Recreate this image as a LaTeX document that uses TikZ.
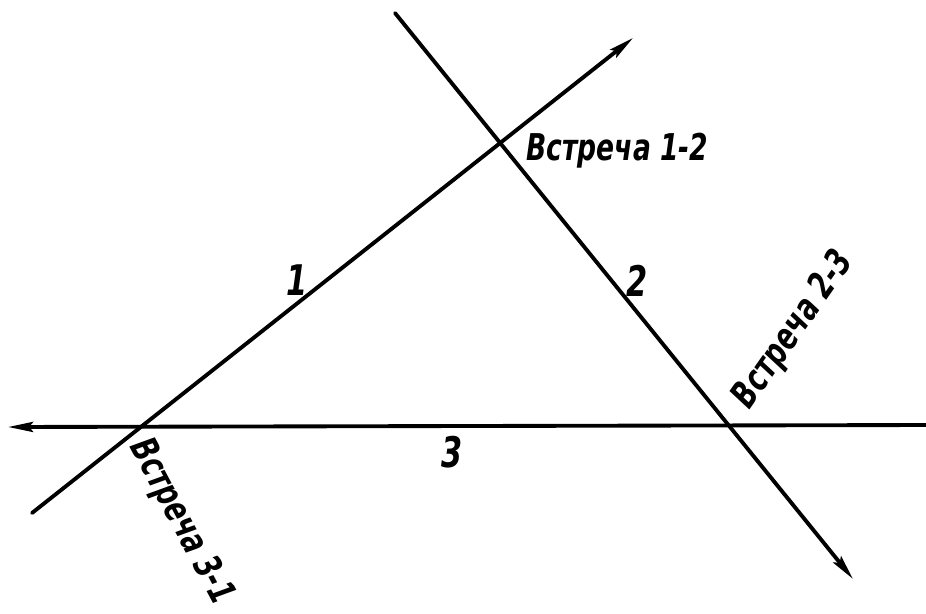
\documentclass[tikz,border=0pt]{standalone}
\usepackage{fontspec}
\setmainfont{DejaVu Sans}[FakeStretch=0.72]
\usetikzlibrary{arrows.meta}
\tikzset{
  >={Stealth[length=5mm,width=2mm,inset=0.8mm]},
  track/.style={line width=2.2pt,draw=black,line cap=round},
  meet/.style={font=\fontsize{21}{23}\selectfont\bfseries\itshape,inner sep=0pt},
  num/.style={font=\fontsize{24}{26}\selectfont\bfseries\itshape,inner sep=0pt},
}
\begin{document}
\begin{tikzpicture}[x=0.02cm,y=-0.02cm]
  \useasboundingbox (0,0) rectangle (926,613);
  % ends of the three tracks
  \coordinate (s1) at (32,513);  \coordinate (e1) at (633,38);
  \coordinate (s2) at (395,13);  \coordinate (e2) at (853,579);
  \coordinate (s3) at (926,425); \coordinate (e3) at (8,427);
  \draw[track,->] (s1) -- (e1);
  \draw[track,->] (s2) -- (e2);
  \draw[track,->] (s3) -- (e3);
  % track numbers
  \node[num] (n1) at (297,280) {1};
  \node[num] (n2) at (637,281) {2};
  \node[num] (n3) at (452,452) {3};
  % meeting points
  \node[meet,anchor=base west] (m12) at (526,160) {Встреча 1-2};
  \node[meet,rotate=55] (m23) at (794,330) {Встреча 2-3};
  \node[meet,rotate=-62] (m31) at (181,522) {Встреча 3-1};
\end{tikzpicture}
\end{document}
